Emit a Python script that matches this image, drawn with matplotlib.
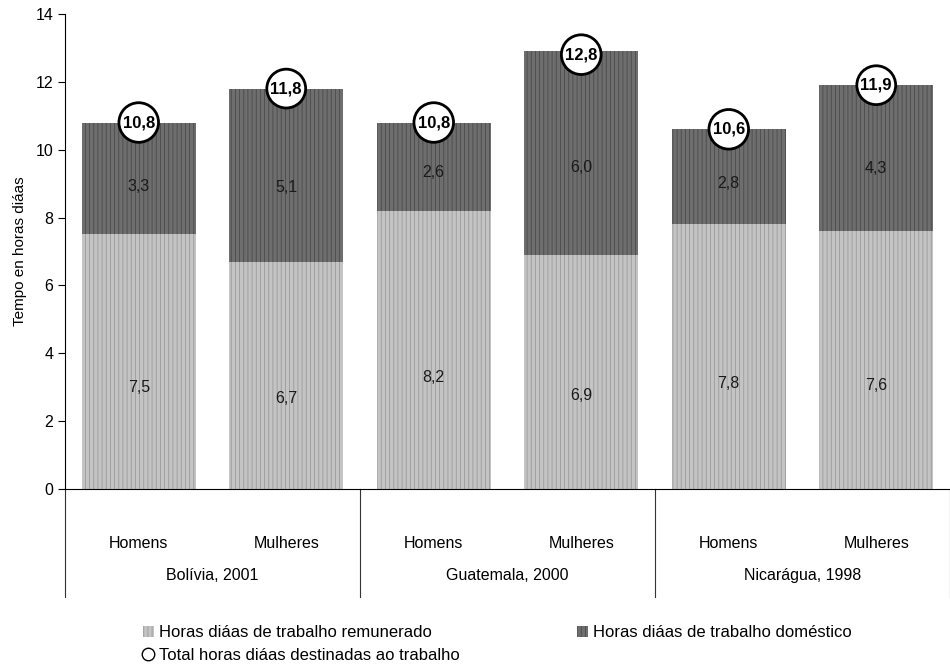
import matplotlib
matplotlib.use('Agg')
import matplotlib.pyplot as plt
import matplotlib.transforms as mtransforms
from matplotlib.patches import Patch
from matplotlib.lines import Line2D
import numpy as np

plt.rcParams['font.family'] = ['Liberation Sans', 'DejaVu Sans']

sexo = ['Homens', 'Mulheres', 'Homens', 'Mulheres', 'Homens', 'Mulheres']
paises = ['Bolívia, 2001', 'Guatemala, 2000', 'Nicarágua, 1998']
remunerado = [7.5, 6.7, 8.2, 6.9, 7.8, 7.6]
domestico = [3.3, 5.1, 2.6, 6.0, 2.8, 4.3]
total = [10.8, 11.8, 10.8, 12.8, 10.6, 11.9]

fig = plt.figure(figsize=(9.5, 6.64), dpi=100)
ax = fig.add_axes([0.0684, 0.2636, 0.9316, 0.7154])

x = np.arange(len(sexo))
w = 0.77
plt.rcParams['hatch.linewidth'] = 0.6
b1 = ax.bar(x, remunerado, w, color='#c4c4c4', edgecolor='#9a9a9a', hatch='||||', linewidth=0)
b2 = ax.bar(x, domestico, w, bottom=remunerado, color='#6e6e6e', edgecolor='#4a4a4a', hatch='||||', linewidth=0)

fmt = lambda v: ('%.1f' % v).replace('.', ',')
for i in range(len(x)):
    ax.text(x[i], remunerado[i] * 0.4, fmt(remunerado[i]), ha='center', va='center', fontsize=11.5, color='#1a1a1a')
    ax.text(x[i], remunerado[i] + domestico[i] * 0.43, fmt(domestico[i]), ha='center', va='center', fontsize=11.5, color='#1a1a1a')
    ax.text(x[i], total[i], fmt(total[i]), ha='center', va='center', fontsize=12, fontweight='bold',
            bbox=dict(boxstyle='circle,pad=0.22', fc='white', ec='black', lw=2))

ax.set_xlim(-0.5, 5.5)
ax.set_ylim(0, 14)
ax.set_yticks(range(0, 15, 2))
ax.tick_params(axis='y', labelsize=11.5, length=5, direction='out')
ax.set_xticks([])
ax.spines['top'].set_visible(False)
ax.spines['right'].set_visible(False)
ax.spines['bottom'].set_linewidth(0.8)
ax.spines['left'].set_linewidth(0.8)
ax.set_ylabel('Tempo en horas diáas', fontsize=11, labelpad=6)

trans = mtransforms.blended_transform_factory(ax.transData, ax.transAxes)
for s in [-0.5, 1.5, 3.5, 5.5]:
    ax.plot([s, s], [0, -0.227], color='#333333', lw=0.8, transform=trans, clip_on=False)
for i in range(len(x)):
    ax.text(x[i], -0.114, sexo[i], ha='center', va='center', fontsize=11.5, transform=trans)
for j, p in enumerate(paises):
    ax.text(2 * j + 0.5, -0.183, p, ha='center', va='center', fontsize=11.5, transform=trans)

handles = [Patch(facecolor='#c4c4c4', edgecolor='#9a9a9a', hatch='||||', linewidth=0),
           Line2D([], [], marker='o', ls='none', mfc='white', mec='black', markersize=9),
           Patch(facecolor='#6e6e6e', edgecolor='#4a4a4a', hatch='||||', linewidth=0)]
labels = ['Horas diáas de trabalho remunerado', 'Total horas diáas destinadas ao trabalho',
          'Horas diáas de trabalho doméstico']
fig.legend(handles, labels, ncol=2, loc='upper left', bbox_to_anchor=(0.15, 0.058), frameon=False,
           fontsize=12, handlelength=0.7, handletextpad=0.3, columnspacing=7, labelspacing=0.45,
           borderaxespad=0, borderpad=0)

fig.savefig('out.png', dpi=100)
